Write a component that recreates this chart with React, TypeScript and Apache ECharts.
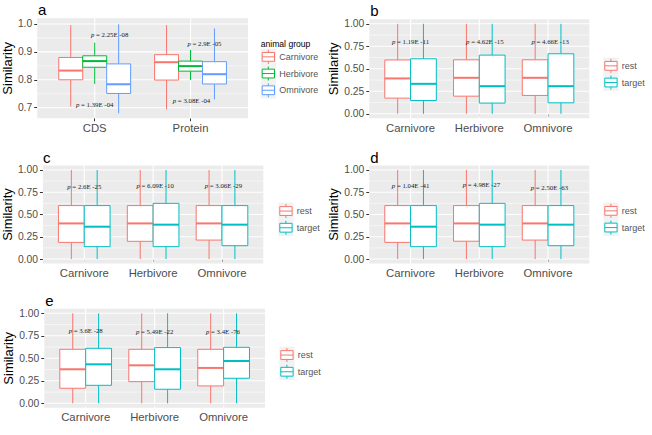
import React, { useEffect, useRef } from "react";
import * as echarts from "echarts";

// ---------- data ----------
const animalGroups = ["Carnivore", "Herbivore", "Omnivore"];
const seqTypes = ["CDS", "Protein"];
const restTarget = ["rest", "target"];

// five-number summaries [min, q1, median, q3, max], one per x category
const aCarnivore = [[0.704, 0.8, 0.833, 0.88, 0.996], [0.694, 0.799, 0.863, 0.89, 0.996]];
const aHerbivore = [[0.785, 0.845, 0.867, 0.886, 0.933], [0.799, 0.831, 0.849, 0.867, 0.907]];
const aOmnivore = [[0.68, 0.751, 0.784, 0.857, 0.999], [0.73, 0.785, 0.82, 0.865, 0.984]];

const bRest = [[0, 0.174, 0.393, 0.598, 1], [0, 0.196, 0.4, 0.6, 1], [0, 0.204, 0.4, 0.6, 1]];
const bTarget = [[0, 0.148, 0.333, 0.611, 1], [0, 0.119, 0.307, 0.652, 1], [0, 0.122, 0.307, 0.667, 1]];
const cRest = [[0, 0.187, 0.4, 0.6, 1], [0, 0.199, 0.4, 0.6, 1], [0, 0.213, 0.4, 0.6, 1]];
const cTarget = [[0, 0.139, 0.363, 0.6, 1], [0, 0.139, 0.386, 0.625, 1], [0, 0.15, 0.386, 0.6, 1]];
const dRest = [[0, 0.187, 0.4, 0.6, 1], [0, 0.2, 0.4, 0.6, 1], [0, 0.213, 0.4, 0.6, 1]];
const dTarget = [[0, 0.139, 0.363, 0.6, 1], [0, 0.139, 0.386, 0.625, 1], [0, 0.15, 0.386, 0.6, 1]];
const eRest = [[0, 0.167, 0.378, 0.6, 1], [0, 0.241, 0.422, 0.6, 1], [0, 0.193, 0.393, 0.6, 1]];
const eTarget = [[0, 0.2, 0.433, 0.611, 1], [0, 0.156, 0.378, 0.619, 1], [0, 0.278, 0.47, 0.622, 1]];

// y ticks
const aYTicks = [0.7, 0.8, 0.9, 1.0];
const aYMinor = [0.75, 0.85, 0.95];
const bYTicks = [0, 0.25, 0.5, 0.75, 1.0];
const bYMinor = [0.125, 0.375, 0.625, 0.875];

// p-value annotations (text, x in category units, y in data units)
const aPText = ["2.25E -08", "1.39E -04", "2.9E -05", "3.08E -04"];
const aPX = [1.156, 1.0, 2.145, 2.01];
const aPY = [0.964, 0.712, 0.931, 0.725];
const bPText = ["1.19E -11", "4.62E -15", "4.66E -13"];
const bPX = [1.0, 2.08, 3.03];
const bPY = [0.8, 0.8, 0.8];
const cPText = ["2.6E -25", "6.09E -10", "3.06E -29"];
const cPX = [1.0, 2.03, 3.02];
const cPY = [0.81, 0.82, 0.82];
const dPText = ["1.04E -41", "4.98E -27", "2.50E -63"];
const dPX = [1.0, 2.03, 3.02];
const dPY = [0.823, 0.84, 0.8];
const ePText = ["3.6E -28", "5.49E -22", "3.4E -76"];
const ePX = [1.0, 2.0, 2.99];
const ePY = [0.814, 0.8, 0.8];

// ---------- styling ----------
const SANS = "Liberation Sans, Arial, sans-serif";
const SERIF = "Liberation Serif, Times New Roman, serif";
const hue3 = ["#F8766D", "#00BA38", "#619CFF"];
const hue2 = ["#F8766D", "#00BFC4"];

type Panel = {
  letter: string;
  rect: [number, number, number, number];
  cats: string[];
  groups: string[];
  colors: string[];
  values: number[][][];
  yMin: number;
  yMax: number;
  ticks: number[];
  minor: number[];
  decimals: number;
  nameGap: number;
  pText: string[];
  pX: number[];
  pY: number[];
  legend: { x: number; y: number; title?: string };
};

const panels: Panel[] = [
  {
    letter: "a", rect: [37, 18.3, 211, 100], cats: seqTypes, groups: animalGroups, colors: hue3,
    values: [aCarnivore, aHerbivore, aOmnivore], yMin: 0.662, yMax: 1.0204,
    ticks: aYTicks, minor: aYMinor, decimals: 1, nameGap: 21,
    pText: aPText, pX: aPX, pY: aPY, legend: { x: 260.7, y: 48.5, title: "animal group" },
  },
  {
    letter: "b", rect: [369.3, 19.3, 220, 99], cats: animalGroups, groups: restTarget, colors: hue2,
    values: [bRest, bTarget], yMin: -0.05, yMax: 1.05, ticks: bYTicks, minor: bYMinor, decimals: 2,
    nameGap: 27, pText: bPText, pX: bPX, pY: bPY, legend: { x: 603.3, y: 57.5 },
  },
  {
    letter: "c", rect: [42, 165.5, 221.3, 98], cats: animalGroups, groups: restTarget, colors: hue2,
    values: [cRest, cTarget], yMin: -0.05, yMax: 1.05, ticks: bYTicks, minor: bYMinor, decimals: 2,
    nameGap: 26.5, pText: cPText, pX: cPX, pY: cPY, legend: { x: 278.3, y: 202.7 },
  },
  {
    letter: "d", rect: [369.3, 165.5, 220, 98], cats: animalGroups, groups: restTarget, colors: hue2,
    values: [dRest, dTarget], yMin: -0.05, yMax: 1.05, ticks: bYTicks, minor: bYMinor, decimals: 2,
    nameGap: 27, pText: dPText, pX: dPX, pY: dPY, legend: { x: 603.3, y: 202.5 },
  },
  {
    letter: "e", rect: [44.3, 308.8, 220.7, 99], cats: animalGroups, groups: restTarget, colors: hue2,
    values: [eRest, eTarget], yMin: -0.05, yMax: 1.05, ticks: bYTicks, minor: bYMinor, decimals: 2,
    nameGap: 27, pText: ePText, pX: ePX, pY: ePY, legend: { x: 279.3, y: 346.7 },
  },
];

function buildOption() {
  const grid: any[] = [];
  const xAxis: any[] = [];
  const yAxis: any[] = [];
  const series: any[] = [];
  const graphic: any[] = [];

  panels.forEach((p, gi) => {
    const [l, t, w, h] = p.rect;
    const n = p.cats.length;
    const catVals = p.cats.map((_, i) => i + 1);
    grid.push({
      left: l, top: t, width: w, height: h, show: true,
      backgroundColor: "#EBEBEB", borderWidth: 0, containLabel: false,
    });
    xAxis.push({
      type: "value", gridIndex: gi, min: 0.4, max: n + 0.6,
      axisLine: { show: false },
      splitLine: { show: false },
      axisTick: { show: true, customValues: catVals, length: 3, lineStyle: { color: "#333333", width: 1 } },
      axisLabel: {
        customValues: catVals, margin: 4, fontSize: 11.3, color: "#4D4D4D", fontFamily: SANS,
        formatter: (v: number) => p.cats[Math.round(v) - 1] ?? "",
      },
    });
    yAxis.push({
      type: "value", gridIndex: gi, min: p.yMin, max: p.yMax,
      name: "Similarity", nameLocation: "middle", nameRotate: 90, nameGap: p.nameGap,
      nameTextStyle: { fontSize: 13, color: "#000000", fontFamily: SANS },
      axisLine: { show: false },
      splitLine: { show: false },
      axisTick: { show: true, customValues: p.ticks, length: 3, lineStyle: { color: "#333333", width: 1 } },
      axisLabel: {
        customValues: p.ticks, margin: 5, fontSize: 10.3, color: "#4D4D4D", fontFamily: SANS,
        formatter: (v: number) => v.toFixed(p.decimals),
      },
    });

    // grid lines (ggplot-like), drawn through the axes' scales
    const gridData: number[][] = [];
    p.ticks.forEach((v) => gridData.push([1, v, 0]));
    p.minor.forEach((v) => gridData.push([1, v, 1]));
    catVals.forEach((c) => gridData.push([c, (p.yMin + p.yMax) / 2, 2]));
    series.push({
      type: "custom", xAxisIndex: gi, yAxisIndex: gi, z: 1, silent: true,
      data: gridData, encode: { x: 0, y: 1 },
      renderItem: (params: any, api: any) => {
        const cs = params.coordSys;
        const kind = api.value(2);
        const pt = api.coord([api.value(0), api.value(1)]);
        if (kind === 2) {
          return {
            type: "line", shape: { x1: pt[0], y1: cs.y, x2: pt[0], y2: cs.y + cs.height },
            style: { stroke: "#FFFFFF", lineWidth: 1.1 },
          };
        }
        return {
          type: "line", shape: { x1: cs.x, y1: pt[1], x2: cs.x + cs.width, y2: pt[1] },
          style: { stroke: "#FFFFFF", lineWidth: kind === 0 ? 1.1 : 0.55 },
        };
      },
    });

    // boxplots
    const k = p.groups.length;
    p.groups.forEach((g, j) => {
      const color = p.colors[j];
      series.push({
        type: "custom", name: g, xAxisIndex: gi, yAxisIndex: gi, z: 2,
        data: p.values[j].map((d, i) => [i + 1, ...d]),
        encode: { x: 0, y: [1, 2, 3, 4, 5] },
        renderItem: (_params: any, api: any) => {
          const x = api.value(0);
          const unit = api.size([1, 0])[0];
          const bw = (unit * 0.75) / k;
          const cx = api.coord([x, api.value(3)])[0] + (j - (k - 1) / 2) * bw;
          const ys = [1, 2, 3, 4, 5].map((d) => api.coord([x, api.value(d)])[1]);
          const [yMin, yQ1, yMed, yQ3, yMax] = ys;
          return {
            type: "group",
            children: [
              { type: "line", shape: { x1: cx, y1: yMax, x2: cx, y2: yQ3 }, style: { stroke: color, lineWidth: 1 } },
              { type: "line", shape: { x1: cx, y1: yQ1, x2: cx, y2: yMin }, style: { stroke: color, lineWidth: 1 } },
              {
                type: "rect", shape: { x: cx - bw / 2, y: yQ3, width: bw, height: yQ1 - yQ3 },
                style: { fill: "#FFFFFF", stroke: color, lineWidth: 1 },
              },
              {
                type: "line", shape: { x1: cx - bw / 2, y1: yMed, x2: cx + bw / 2, y2: yMed },
                style: { stroke: color, lineWidth: 2 },
              },
            ],
          };
        },
      });
    });

    // p-value annotations
    series.push({
      type: "custom", xAxisIndex: gi, yAxisIndex: gi, z: 3, silent: true,
      data: p.pText.map((s, i) => ({ value: [p.pX[i], p.pY[i]], name: s })),
      encode: { x: 0, y: 1 },
      renderItem: (params: any, api: any) => {
        const pt = api.coord([api.value(0), api.value(1)]);
        const label = p.pText[params.dataIndex];
        return {
          type: "text", x: pt[0], y: pt[1],
          style: {
            text: "{i|p} = " + label,
            rich: { i: { fontStyle: "italic", fontFamily: SERIF, fontSize: 6.8, fill: "#222222" } },
            fontFamily: SERIF, fontSize: 6.8, fill: "#222222",
            align: "center", verticalAlign: "middle",
          },
        };
      },
    });

    // panel letter
    graphic.push({
      type: "text", left: l + 1, top: t - 16,
      style: { text: p.letter, fontSize: 15, fontFamily: SANS, fill: "#000000" },
    });

    // legend
    const lg = p.legend;
    let y0 = lg.y;
    if (lg.title) {
      graphic.push({
        type: "text", x: lg.x, y: y0 - 4.5,
        style: { text: lg.title, fontSize: 8.6, fontFamily: SANS, fill: "#000000", verticalAlign: "middle" },
      });
    }
    p.groups.forEach((g, j) => {
      const color = p.colors[j];
      const top = y0 + j * 16.7;
      const cy = top + 8.35;
      const cx = lg.x + 7.6;
      graphic.push({
        type: "group",
        children: [
          { type: "rect", shape: { x: lg.x, y: top, width: 15.3, height: 16.7 }, style: { fill: "#F2F2F2" } },
          { type: "line", shape: { x1: cx, y1: cy - 7, x2: cx, y2: cy - 4.4 }, style: { stroke: color, lineWidth: 1 } },
          { type: "line", shape: { x1: cx, y1: cy + 4.4, x2: cx, y2: cy + 7 }, style: { stroke: color, lineWidth: 1 } },
          {
            type: "rect", shape: { x: lg.x + 1.5, y: cy - 4.4, width: 12.3, height: 8.8 },
            style: { fill: "#FFFFFF", stroke: color, lineWidth: 1 },
          },
          { type: "line", shape: { x1: lg.x + 1.5, y1: cy, x2: lg.x + 13.8, y2: cy }, style: { stroke: color, lineWidth: 1 } },
          {
            type: "text", x: lg.x + 18.5, y: cy,
            style: { text: g, fontSize: 9, fontFamily: SANS, fill: "#555555", verticalAlign: "middle" },
          },
        ],
      });
    });
  });

  return {
    animation: false,
    backgroundColor: "#FFFFFF",
    grid, xAxis, yAxis, series, graphic,
  };
}

export default function App() {
  const ref = useRef<HTMLDivElement>(null);
  useEffect(() => {
    if (!ref.current) return;
    const chart = echarts.init(ref.current, undefined, { renderer: "svg" });
    chart.setOption(buildOption() as any);
    return () => chart.dispose();
  }, []);
  return (
    <div
      ref={ref}
      style={{ position: "fixed", left: 0, top: 0, width: 652, height: 435, background: "#fff" }}
    />
  );
}
